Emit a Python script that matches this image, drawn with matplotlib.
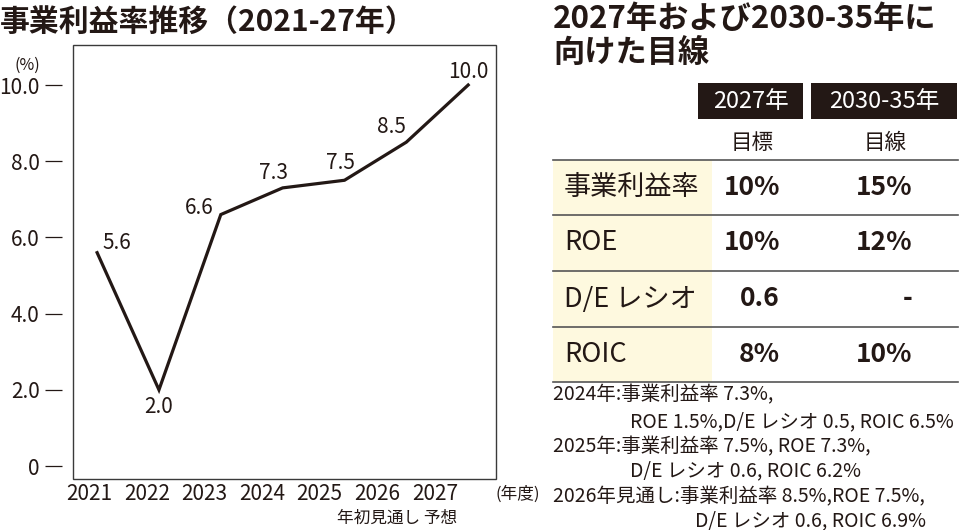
import matplotlib
matplotlib.use("Agg")
import matplotlib.pyplot as plt
from matplotlib.patches import Rectangle
from matplotlib.lines import Line2D

plt.rcParams["font.family"] = ["Noto Sans CJK JP", "DejaVu Sans"]

INK = "#231815"
W, H = 960, 530

# ---- data ----
years = [2021, 2022, 2023, 2024, 2025, 2026, 2027]
margin = [5.6, 2.0, 6.6, 7.3, 7.5, 8.5, 10.0]
margin_labels = ["5.6", "2.0", "6.6", "7.3", "7.5", "8.5", "10.0"]
# label offsets (px) relative to each point
label_offsets = [(20, 10), (0, -17), (-22, 7), (-9, 15), (-4, 17), (-15, 15), (0, 13)]

y_ticks = [0, 2, 4, 6, 8, 10]
y_tick_labels = ["0", "2.0", "4.0", "6.0", "8.0", "10.0"]

col_headers = ["2027年", "2030-35年"]
col_subheaders = ["目標", "目線"]
row_names = ["事業利益率", "ROE", "D/E レシオ", "ROIC"]
target_2027 = ["10%", "10%", "0.6", "8%"]
target_2035 = ["15%", "12%", "-", "10%"]

notes = [
    ("2024年:事業利益率 7.3%,", 0),
    ("ROE 1.5%,D/E レシオ 0.5, ROIC 6.5%", 1),
    ("2025年:事業利益率 7.5%, ROE 7.3%,", 0),
    ("D/E レシオ 0.6, ROIC 6.2%", 1),
    ("2026年見通し:事業利益率 8.5%,ROE 7.5%,", 0),
    ("D/E レシオ 0.6, ROIC 6.9%", 2),
]


def fx(x):
    return x / W


def fy(y):
    return 1 - y / H


fig = plt.figure(figsize=(9.6, 5.3), dpi=100)

# ---- left: line chart ----
ax = fig.add_axes([fx(73), fy(479), fx(496) - fx(73), fy(45) - fy(479)])
ax.plot(years, margin, color=INK, lw=2.3, solid_joinstyle="miter")
ax.set_xlim(2020.61, 2027.45)
ax.set_ylim(-0.34, 11.05)

for x, v, lab, (dx, dy) in zip(years, margin, margin_labels, label_offsets):
    ax.annotate(lab, (x, v), xytext=(dx * 0.72, dy * 0.72), textcoords="offset points",
                ha="center", va="center", fontsize=15, color=INK)

for s in ax.spines.values():
    s.set_visible(False)
ax.spines["left"].set_position(("outward", 8))
ax.add_patch(Rectangle((0, 0), 1, 1, transform=ax.transAxes, fill=False,
                       edgecolor="#3a3a3a", lw=1.0, clip_on=False))
ax.set_yticks(y_ticks)
ax.set_yticklabels(y_tick_labels)
ax.tick_params(axis="y", length=12, width=0.9, color=INK, pad=4,
               labelsize=15, labelcolor=INK)
ax.set_xticks([])

# year labels sit on a slightly different grid than the points
ax2 = ax.twiny()
ax2.set_xlim(2020.72, 2028.06)
ax2.xaxis.set_ticks_position("bottom")
ax2.xaxis.set_label_position("bottom")
ax2.set_xticks(years)
ax2.set_xticklabels([str(y) for y in years])
ax2.tick_params(axis="x", length=0, pad=3, labelsize=15, labelcolor=INK)
for s in ax2.spines.values():
    s.set_visible(False)

fig.text(fx(27), fy(65), "(%)", ha="center", va="center", fontsize=11.5, color=INK)
fig.text(fx(518), fy(494), "(年度)", ha="center", va="center", fontsize=12, color=INK)
fig.text(fx(397), fy(518), "年初見通し 予想", ha="center", va="center", fontsize=12, color=INK)

fig.text(fx(0), fy(22), "事業利益率推移（2021-27年）", ha="left", va="center",
         fontsize=21.5, fontweight="bold", color=INK)

# ---- right: target table ----
fig.text(fx(553), fy(19), "2027年および2030-35年に", ha="left", va="center",
         fontsize=22.5, fontweight="bold", color=INK)
fig.text(fx(553), fy(53), "向けた目線", ha="left", va="center",
         fontsize=22.5, fontweight="bold", color=INK)

boxes = [(698, 803), (811, 957)]
sub_x = [752, 885]
for (x0, x1), head, sub, sx in zip(boxes, col_headers, col_subheaders, sub_x):
    fig.patches.append(Rectangle((fx(x0), fy(119)), fx(x1) - fx(x0), fy(83) - fy(119),
                                 transform=fig.transFigure, facecolor=INK, edgecolor="none"))
    fig.text(fx((x0 + x1) / 2), fy(101), head, ha="center", va="center",
             fontsize=17, color="white")
    fig.text(fx(sx), fy(143), sub, ha="center", va="center", fontsize=15.5, color=INK)

row_lines = [160, 215, 271, 327, 382]
fig.patches.append(Rectangle((fx(553), fy(382)), fx(712) - fx(553), fy(160) - fy(382),
                             transform=fig.transFigure, facecolor="#fef9df", edgecolor="none"))
for yl in row_lines:
    fig.lines.append(Line2D([fx(553), fx(958)], [fy(yl), fy(yl)], transform=fig.transFigure,
                            color="#555555", lw=1.2))

for i, (name, v1, v2) in enumerate(zip(row_names, target_2027, target_2035)):
    yc = (row_lines[i] + row_lines[i + 1]) / 2
    fig.text(fx(564), fy(yc), name, ha="left", va="center", fontsize=19.5, color=INK)
    fig.text(fx(780), fy(yc), v1, ha="right", va="center", fontsize=19,
             fontweight="bold", color=INK)
    fig.text(fx(912), fy(yc), v2, ha="right", va="center", fontsize=19,
             fontweight="bold", color=INK)

note_x = [553, 630, 695]
note_y = [395, 422, 447, 471, 497, 521]
for (txt, indent), yn in zip(notes, note_y):
    fig.text(fx(note_x[indent]), fy(yn), txt, ha="left", va="center",
             fontsize=14, color=INK)

fig.savefig("out.png", dpi=100, facecolor="white")
